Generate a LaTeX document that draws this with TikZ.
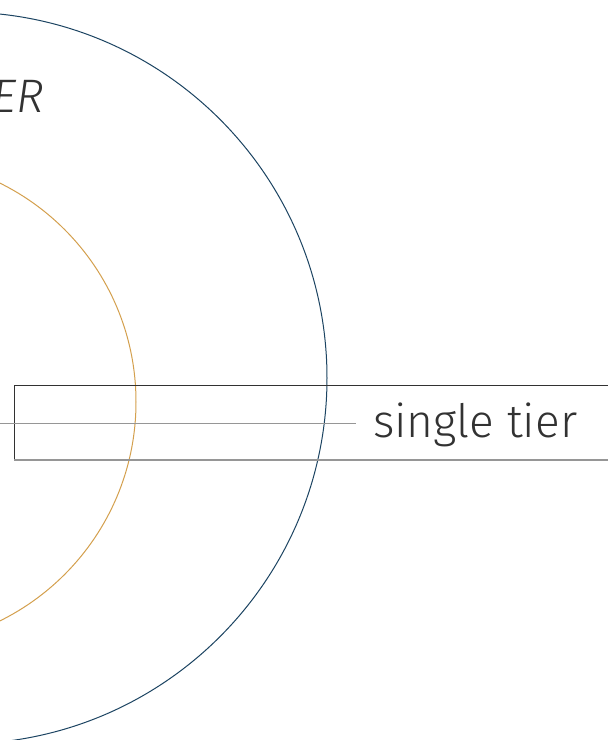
\documentclass[tikz,border=0pt]{standalone}
\usepackage{fontspec}
\setmainfont{Fira Sans Light}
\begin{document}
\begin{tikzpicture}[x=1pt,y=-1pt,
  bluering/.style={draw={rgb,255:red,28;green,68;blue,98}, line width=1pt},
  orangering/.style={draw={rgb,255:red,212;green,160;blue,78}, line width=1pt},
  framebox/.style={draw={rgb,255:red,50;green,50;blue,50}, line width=1pt},
  guide/.style={draw={rgb,255:red,150;green,150;blue,150}, line width=1pt},
  label/.style={inner sep=0pt, anchor=base west, text={rgb,255:red,50;green,50;blue,50}}]
\useasboundingbox (0,0) rectangle (608,740);
\clip (0,0) rectangle (608,740);
\fill[white] (0,0) rectangle (608,740);
\coordinate (bc) at (-39,378);
\coordinate (oc) at (-108,402);
\draw[bluering] (bc) circle[radius=366];
\draw[orangering] (oc) circle[radius=244];
\draw[framebox] (14,385) -- (620,385);
\draw[framebox] (14,385) -- (14,460);
\draw[guide, line width=1.5pt] (14,460) -- (620,460);
\coordinate (gl) at (0,423);
\coordinate (gr) at (356,423);
\draw[guide] (gl) -- (gr);
\node[label, font=\fontsize{46}{50}\selectfont] (st) at (373,437) {single tier};
\node[label, font=\fontsize{47}{50}\selectfont\itshape] (er) at (-8,112) {ER};
\end{tikzpicture}
\end{document}
